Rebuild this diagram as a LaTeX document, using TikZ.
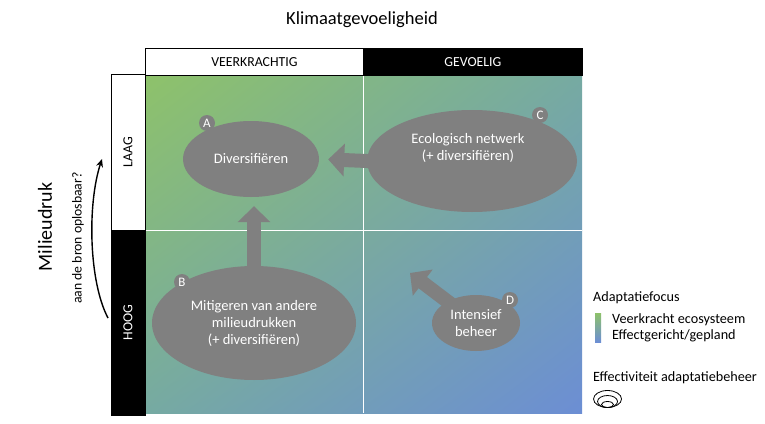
\documentclass[tikz,border=0pt]{standalone}
\usepackage{fontspec}
\setmainfont{Carlito}
\usetikzlibrary{arrows.meta,shapes.geometric,shadings}

\definecolor{blobgray}{RGB}{128,128,128}
\definecolor{focusgreen}{RGB}{142,194,106}
\definecolor{focusteal}{RGB}{118,170,162}
\definecolor{focusblue}{RGB}{108,142,212}

\tikzset{
  blob/.style={ellipse, fill=blobgray, text=white, align=center, inner sep=0pt, font=\fontsize{14.5}{17}\selectfont},
  badge/.style={circle, fill=blobgray, text=white, inner sep=0pt, minimum size=16pt, font=\fontsize{13}{14}\selectfont},
  blockarrow/.style={draw=blobgray, line width=14pt, shorten <=-4pt, -{Triangle[width=32pt,length=16pt]}},
  hdrbox/.style={draw, line width=0.8pt, inner sep=0pt, font=\fontsize{13.8}{15}\selectfont},
  legtext/.style={anchor=west, inner sep=0pt, font=\fontsize{14.2}{16}\selectfont},
}

\begin{document}
\begin{tikzpicture}[x=1pt,y=1pt,yscale=-1,xscale=1]
\useasboundingbox (0,0) rectangle (765,423);

%Shape: gradient field
\shade[upper left=focusgreen, upper right=focusteal, lower left=focusteal, lower right=focusblue] (145,75) rectangle (582,413);
%Straight Lines: quadrant borders
\draw[white, line width=1pt] (363,75) -- (363,413);
\draw[white, line width=1pt] (145,230) -- (582,230);

% Header boxes
\node[hdrbox, fill=white, minimum width=218pt, minimum height=27pt, anchor=north west] (veer) at (145,48) {VEERKRACHTIG};
\node[hdrbox, fill=black, text=white, minimum width=219pt, minimum height=27pt, anchor=north west] (gevoel) at (363,48) {GEVOELIG};
% Side boxes
\node[hdrbox, fill=white, rotate=90, minimum width=156pt, minimum height=34pt] (laag) at (128,152) {LAAG};
\node[hdrbox, fill=black, text=white, rotate=90, minimum width=185pt, minimum height=34pt] (hoog) at (128,322.5) {HOOG};

% Titles
\node[font=\fontsize{18.5}{20}\selectfont] (klimaat) at (362,20) {Klimaatgevoeligheid};
\node[rotate=90, font=\fontsize{20}{22}\selectfont] (milieu) at (45,227) {Milieudruk};
\node[rotate=90, font=\fontsize{13.7}{15}\selectfont] (bron) at (78,238) {aan de bron oplosbaar?};

%Curved arrow
\coordinate (bronlow) at (108,318);
\coordinate (bronhigh) at (102,159);
\draw[line width=1.4pt, -{Stealth[length=8pt,width=7pt]}] (bronlow) .. controls (89,282) and (87,205) .. (bronhigh);

%Shape: Ellipse
\node[blob, minimum width=136pt, minimum height=76pt] (A) at (251,159) {Diversifiëren};
\node[blob, minimum width=210pt, minimum height=102pt] (C) at (472,161) {};
\node[blob, minimum width=204pt, minimum height=114pt] (B) at (254,323) {Mitigeren van andere\\milieudrukken\\(+ diversifiëren)};
\node[blob, minimum width=88pt, minimum height=56pt] (D) at (476,323) {Intensief\\beheer};
% Text Node
\node[align=center, text=white, font=\fontsize{14.5}{17}\selectfont] (Ctext) at (468,148) {Ecologisch netwerk\\(+ diversifiëren)};

%Block arrows
\coordinate (Dtip) at (410,273);
\draw[blockarrow, shorten >=9pt] (C.west) -- (A.east);
\draw[blockarrow, shorten >=9pt] (B.north) -- (B.north |- A.south);
\draw[blockarrow] (D) -- (Dtip);

% Badges
\node[badge] (Abadge) at (207,123) {A};
\node[badge] (Cbadge) at (540,115) {C};
\node[badge] (Bbadge) at (182,282) {B};
\node[badge] (Dbadge) at (510,300) {D};

% Legend
\node[legtext] (focus) at (593,298) {Adaptatiefocus};
\shade[top color=focusgreen, bottom color=focusblue] (595,313) rectangle (601,342);
\node[legtext] (veerkracht) at (612,320) {Veerkracht ecosysteem};
\node[legtext] (effect) at (612,336) {Effectgericht/gepland};
\node[legtext] (effectiviteit) at (593,378) {Effectiviteit adaptatiebeheer};
%Shape: nested ellipses
\draw[line width=0.8pt] (607.5,399) ellipse [x radius=14, y radius=8.5];
\draw[line width=0.8pt] (607.5,401.5) ellipse [x radius=10, y radius=6];
\draw[line width=0.8pt] (607.5,404.5) ellipse [x radius=6, y radius=3];

\end{tikzpicture}
\end{document}
